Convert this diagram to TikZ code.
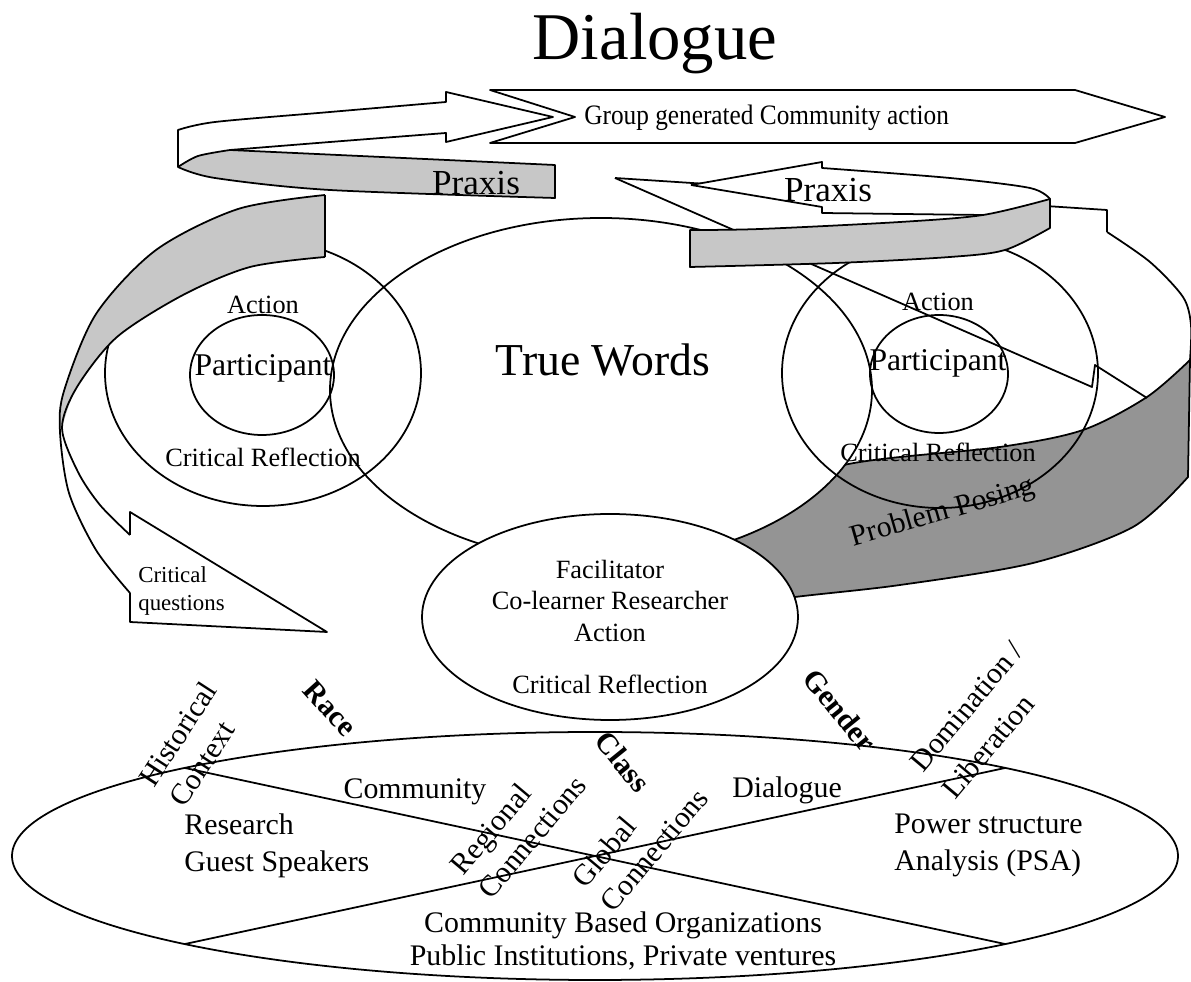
\documentclass[tikz,border=0pt]{standalone}
\usepackage{fontspec}
\setmainfont{Liberation Serif}
\begin{document}
\begin{tikzpicture}[x=0.02cm,y=-0.02cm,
  line join=round,
  ln/.style={draw=black, line width=1pt},
  lightshade/.style={fill=black!22},
  darkshade/.style={fill=black!42},
  txt/.style={inner sep=0pt, font=\fontsize{15pt}{18pt}\selectfont},
  bigtxt/.style={inner sep=0pt, font=\fontsize{17pt}{21pt}\selectfont},
  slanted/.style={inner sep=0pt, align=left, font=\fontsize{17pt}{21pt}\selectfont},
  theme/.style={inner sep=0pt, font=\bfseries\fontsize{17pt}{21pt}\selectfont},
  praxistxt/.style={inner sep=0pt, font=\fontsize{20pt}{24pt}\selectfont},
]
\useasboundingbox (0,0) rectangle (1191,982);

% ---------- Problem Posing ribbon: shaded front face ----------
\path[ln, darkshade]
  plot[smooth] coordinates {(700,560) (770,510) (840,466) (1000,447) (1083,430) (1147,397) (1190,360)}
  -- (1188,477)
  -- plot[smooth] coordinates {(1188,477) (1133,527) (1033,563) (900,585) (795,597) (700,610)}
  -- cycle;

% ---------- True Words and facilitator ellipses ----------
\path[ln, fill=white] (601,390) ellipse [x radius=271, y radius=172];
\path[ln, fill=white] (610,617) ellipse [x radius=188, y radius=103];

% ---------- participant rings ----------
\draw[ln] (263,373) ellipse [x radius=158, y radius=133];
\draw[ln] (262,375) ellipse [x radius=72, y radius=60];
\draw[ln] (940,373) ellipse [x radius=158, y radius=135];
\draw[ln] (939,374) ellipse [x radius=69, y radius=59];

% ---------- Critical questions ribbon (left) ----------
\path[lightshade]
  plot[smooth] coordinates {(325,195) (238,209) (156,250) (96,314) (64,391) (60,432)}
  -- plot[smooth] coordinates {(62,428) (77,387) (117,337) (183,295) (250,267) (325,257)}
  -- cycle;
\draw[ln] plot[smooth] coordinates {(325,195) (238,209) (156,250) (96,314) (64,391) (60,432) (69,493) (96,550) (130,593)};
\draw[ln] plot[smooth] coordinates {(325,257) (250,267) (183,295) (117,337) (77,387) (62,428) (78,472) (100,505) (130,535)};
\draw[ln] (325,195) -- (325,257);
\draw[ln] (130,535) -- (130,512) -- (327,632) -- (130,622) -- (130,593);

% ---------- Problem Posing ribbon: back face and arrow head ----------
\draw[ln] (615,178) -- (1107,210) -- (1107,232);
\draw[ln] plot[smooth] coordinates {(1107,232) (1150,262) (1183,297) (1191,325) (1190,360)};
\draw[ln] (615,178) -- (1092,387) -- (1095,365) -- (1147,398);

% ---------- Praxis ribbon (right) ----------
\path[fill=white] (691,185) -- (822,162) -- (822,168)
  -- plot[smooth] coordinates {(822,168) (950,178) (1030,188) (1050,199)}
  -- (983,215) -- (822,213) -- (822,207) -- cycle;
\draw[ln] (691,185) -- (822,162) -- (822,168)
  -- plot[smooth] coordinates {(822,168) (950,178) (1030,188) (1050,199)};
\draw[ln] (691,185) -- (822,207) -- (822,213) -- (983,215);
\path[ln, lightshade]
  plot[smooth] coordinates {(690,230) (760,229) (900,222) (983,215) (1050,199)}
  -- (1050,228)
  -- plot[smooth] coordinates {(1050,228) (1005,250) (950,257) (836,263) (690,267)}
  -- cycle;

% ---------- Praxis ribbon (left) ----------
\path[ln, lightshade]
  plot[smooth] coordinates {(178,167) (198,156) (230,150)}
  -- (555,165) -- (555,198)
  -- plot[smooth] coordinates {(555,198) (330,190) (215,178) (178,167)}
  -- cycle;
\draw[ln] (178,167) -- (178,130)
  -- plot[smooth] coordinates {(178,130) (215,122) (330,112) (446,102)}
  -- (446,92) -- (553,117) -- (446,142) -- (446,133)
  -- plot[smooth] coordinates {(446,133) (330,142) (230,150)};

% ---------- community action arrow ----------
\path[ln, fill=white] (490,90) -- (1075,90) -- (1165,117) -- (1075,143) -- (490,143) -- (575,117) -- cycle;

% ---------- community ellipse ----------
\draw[ln] (595,856) ellipse [x radius=583, y radius=124];
\coordinate (xa) at (185,768);
\coordinate (xb) at (1005,944);
\coordinate (xc) at (185,944);
\coordinate (xd) at (1005,768);
\draw[ln] (xa) -- (xb);
\draw[ln] (xc) -- (xd);

% ---------- labels ----------
\node[inner sep=0pt, font=\fontsize{38pt}{42pt}\selectfont] (title) at (655,44) {Dialogue};
\node[inner sep=0pt, anchor=west, xscale=0.9, font=\fontsize{16pt}{18pt}\selectfont] (action) at (584,118) {Group generated Community action};
\node[praxistxt] (praxisL) at (476,183) {Praxis};
\node[praxistxt] (praxisR) at (828,190) {Praxis};
\node[inner sep=0pt, font=\fontsize{26pt}{30pt}\selectfont] (truewords) at (603,360) {True Words};

\node[txt] (actL) at (263,305) {Action};
\node[inner sep=0pt, font=\fontsize{18pt}{21pt}\selectfont] (partL) at (263,368) {Participant};
\node[txt] (crL) at (263,457) {Critical Reflection};
\node[txt] (actR) at (938,302) {Action};
\node[inner sep=0pt, font=\fontsize{18pt}{21pt}\selectfont] (partR) at (938,363) {Participant};
\node[txt] (crR) at (938,452) {Critical Reflection};

\node[inner sep=0pt, anchor=west, align=left, font=\fontsize{13pt}{16pt}\selectfont] (critq) at (138,591) {Critical\\questions};
\node[txt, align=center] (facil) at (610,627) {Facilitator\\Co-learner Researcher\\Action\\[12pt]Critical Reflection};
\node[bigtxt, rotate=16] (posing) at (943,513) {Problem Posing};

\node[bigtxt, anchor=west, align=left] (research) at (184,846) {Research\\Guest Speakers};
\node[bigtxt] (community) at (415,792) {Community};
\node[bigtxt] (dialogue) at (787,790) {Dialogue};
\node[bigtxt, anchor=west, align=left] (psa) at (894,845) {Power structure\\Analysis (PSA)};
\node[inner sep=0pt, align=center, font=\fontsize{17pt}{18.7pt}\selectfont] (orgs) at (623,941) {Community Based Organizations\\Public Institutions, Private ventures};

\node[slanted, rotate=57] (hist) at (193,744) {Historical\\Context};
\node[theme, rotate=-48] (race) at (330,708) {Race};
\node[theme, rotate=-51] (class) at (623,762) {Class};
\node[theme, rotate=-51] (gender) at (840,710) {Gender};
\node[slanted, rotate=50] (regional) at (518,825) {Regional\\Connections};
\node[slanted, rotate=50] (global) at (640,838) {Global\\Connections};
\node[inner sep=0pt, align=left, rotate=50, font=\fontsize{17pt}{24pt}\selectfont] (domin) at (983,720) {Domination /\\Liberation};
\end{tikzpicture}
\end{document}
